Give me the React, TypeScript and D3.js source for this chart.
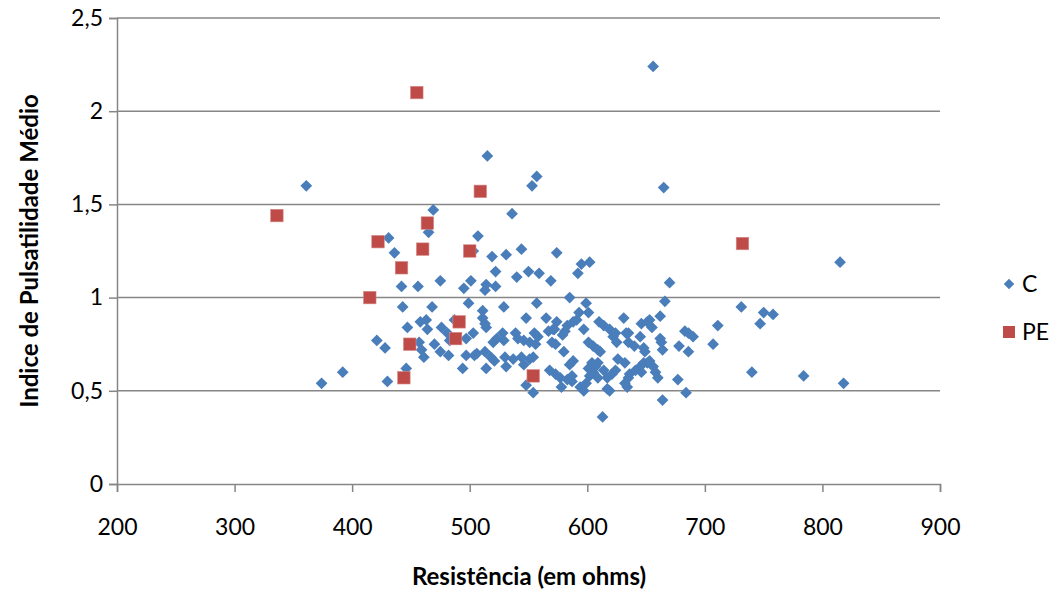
import React, { useRef, useEffect } from 'react';
import * as d3 from 'd3';

// Resistência (ohms) / Indice de Pulsatilidade Médio, grupo C
const cX = [
  515, 361, 557, 553, 469, 536, 465, 431, 507, 436, 503, 544, 519, 531, 522, 540, 550, 559, 475, 442,
  456, 495, 501, 513, 522, 514, 443, 468, 499, 529, 511, 548, 557, 565, 574, 569, 447, 458, 463, 464,
  476, 487, 511, 514, 513, 421, 428, 457, 459, 461, 470, 475, 482, 481, 483, 497, 503, 497, 506, 504,
  494, 514, 518, 521, 520, 528, 529, 523, 530, 531, 537, 539, 541, 546, 544, 546, 551, 554, 555, 558,
  556, 548, 554, 446, 430, 585, 599, 601, 593, 574, 572, 583, 588, 591, 581, 579, 597, 610, 614, 619,
  624, 631, 551, 567, 571, 570, 573, 580, 601, 605, 609, 611, 625, 622, 633, 513, 568, 573, 577, 578,
  583, 587, 585, 588, 594, 597, 599, 602, 605, 607, 601, 604, 609, 614, 617, 621, 624, 617, 619, 626,
  632, 634, 665, 595, 602, 592, 670, 666, 635, 635, 640, 645, 646, 651, 653, 655, 648, 649, 662, 662,
  663, 664, 678, 686, 683, 686, 690, 711, 707, 613, 632, 635, 636, 641, 645, 648, 651, 653, 646, 658,
  660, 656, 664, 677, 684, 815, 731, 750, 758, 747, 740, 784, 818, 374, 392, 656, 587, 609,
];
const cY = [
  1.76, 1.60, 1.65, 1.60, 1.47, 1.45, 1.35, 1.32, 1.33, 1.24, 1.25, 1.26, 1.22, 1.23, 1.14, 1.11, 1.14, 1.13, 1.09, 1.06,
  1.06, 1.05, 1.09, 1.04, 1.06, 1.07, 0.95, 0.95, 0.97, 0.95, 0.93, 0.89, 0.97, 0.89, 1.24, 1.09, 0.84, 0.87, 0.88, 0.83,
  0.84, 0.88, 0.89, 0.84, 0.86, 0.77, 0.73, 0.76, 0.72, 0.68, 0.75, 0.71, 0.69, 0.81, 0.77, 0.78, 0.81, 0.69, 0.70, 0.69,
  0.62, 0.62, 0.68, 0.66, 0.76, 0.81, 0.77, 0.78, 0.68, 0.63, 0.67, 0.81, 0.78, 0.77, 0.68, 0.64, 0.67, 0.68, 0.81, 0.79,
  0.75, 0.53, 0.49, 0.62, 0.55, 1.00, 0.97, 0.92, 0.92, 0.87, 0.83, 0.85, 0.87, 0.88, 0.82, 0.80, 0.83, 0.87, 0.85, 0.83,
  0.81, 0.89, 0.76, 0.82, 0.83, 0.76, 0.75, 0.71, 0.76, 0.74, 0.72, 0.71, 0.76, 0.79, 0.81, 0.71, 0.61, 0.59, 0.57, 0.52,
  0.56, 0.58, 0.64, 0.66, 0.52, 0.50, 0.54, 0.58, 0.60, 0.63, 0.62, 0.65, 0.65, 0.61, 0.57, 0.59, 0.61, 0.51, 0.50, 0.67,
  0.65, 0.52, 1.59, 1.18, 1.19, 1.13, 1.08, 0.98, 0.81, 0.76, 0.74, 0.79, 0.86, 0.87, 0.88, 0.84, 0.73, 0.71, 0.90, 0.78,
  0.76, 0.72, 0.74, 0.71, 0.82, 0.81, 0.79, 0.85, 0.75, 0.36, 0.54, 0.57, 0.59, 0.61, 0.63, 0.65, 0.65, 0.66, 0.60, 0.60,
  0.57, 0.63, 0.45, 0.56, 0.49, 1.19, 0.95, 0.92, 0.91, 0.86, 0.60, 0.58, 0.54, 0.54, 0.60, 2.24, 0.55, 0.57,
];

// grupo PE
const peX = [336, 455, 509, 422, 464, 460, 500, 442, 415, 491, 488, 449, 444, 554, 732];
const peY = [1.44, 2.10, 1.57, 1.30, 1.40, 1.26, 1.25, 1.16, 1.00, 0.87, 0.78, 0.75, 0.57, 0.58, 1.29];

const xTicks = [200, 300, 400, 500, 600, 700, 800, 900];
const yTicks = [0, 0.5, 1, 1.5, 2, 2.5];
const yTickLabels = ['0', '0,5', '1', '1,5', '2', '2,5'];

const App = () => {
  const svgRef = useRef<SVGSVGElement>(null);

  useEffect(() => {
    const width = 1055;
    const height = 593;
    const margin = { top: 18, right: 115, bottom: 109, left: 117 };
    const font = 'Lato, "Open Sans", sans-serif';
    const gray = '#868686';
    const tickFont = '23px';
    const titleFont = '24px';

    const svg = d3.select(svgRef.current)
      .attr('width', width)
      .attr('height', height)
      .style('background', 'white');

    svg.selectAll('*').remove();

    const xScale = d3.scaleLinear().domain([200, 900]).range([margin.left, width - margin.right]);
    const yScale = d3.scaleLinear().domain([0, 2.5]).range([height - margin.bottom, margin.top]);

    // horizontal gridlines
    svg.append('g')
      .selectAll('line')
      .data(yTicks.filter(d => d > 0))
      .join('line')
      .attr('x1', xScale(200))
      .attr('x2', xScale(900))
      .attr('y1', d => yScale(d))
      .attr('y2', d => yScale(d))
      .attr('stroke', gray)
      .attr('stroke-width', 1.5);

    const yAxis = d3.axisLeft(yScale)
      .tickValues(yTicks)
      .tickSize(8)
      .tickPadding(6)
      .tickFormat((d, i) => yTickLabels[i]);

    const gy = svg.append('g')
      .attr('transform', `translate(${margin.left},0)`)
      .call(yAxis);
    gy.select('.domain').attr('stroke', gray).attr('stroke-width', 1.5);
    gy.selectAll('.tick line').attr('stroke', gray).attr('stroke-width', 1.5);
    gy.selectAll('text')
      .attr('fill', 'black')
      .style('font-family', font)
      .style('font-size', tickFont);

    const xAxis = d3.axisBottom(xScale)
      .tickValues(xTicks)
      .tickSize(8)
      .tickPadding(27)
      .tickFormat(d3.format('d'));

    const gx = svg.append('g')
      .attr('transform', `translate(0,${height - margin.bottom})`)
      .call(xAxis);
    gx.select('.domain').attr('stroke', gray).attr('stroke-width', 1.5);
    gx.selectAll('.tick line').attr('stroke', gray).attr('stroke-width', 1.5);
    gx.selectAll('text')
      .attr('fill', 'black')
      .style('font-family', font)
      .style('font-size', tickFont);

    // axis titles
    svg.append('text')
      .attr('text-anchor', 'middle')
      .attr('x', 529)
      .attr('y', 585)
      .attr('font-weight', 'bold')
      .style('font-family', font)
      .style('font-size', titleFont)
      .text('Resistência (em ohms)');

    svg.append('text')
      .attr('text-anchor', 'middle')
      .attr('transform', 'translate(38,251) rotate(-90)')
      .attr('font-weight', 'bold')
      .style('font-family', font)
      .style('font-size', titleFont)
      .text('Indice de Pulsatilidade Médio');

    const diamond = d3.symbol().type(d3.symbolDiamond2).size(88);
    const cData = cX.map((x, i) => ({ x, y: cY[i] }));
    const peData = peX.map((x, i) => ({ x, y: peY[i] }));

    svg.append('g')
      .selectAll('path')
      .data(cData)
      .join('path')
      .attr('d', diamond)
      .attr('transform', d => `translate(${xScale(d.x)},${yScale(d.y)})`)
      .attr('fill', '#4a7ebb');

    svg.append('g')
      .selectAll('rect')
      .data(peData)
      .join('rect')
      .attr('x', d => xScale(d.x) - 6.25)
      .attr('y', d => yScale(d.y) - 6.25)
      .attr('width', 12.5)
      .attr('height', 12.5)
      .attr('fill', '#be4b48')
      .attr('stroke', '#d58a88')
      .attr('stroke-width', 0.6);

    // legend
    const legend = svg.append('g').attr('transform', 'translate(1009,0)');
    legend.append('path')
      .attr('d', d3.symbol().type(d3.symbolDiamond2).size(70))
      .attr('transform', 'translate(0,284)')
      .attr('fill', '#4a7ebb');
    legend.append('rect')
      .attr('x', -6)
      .attr('y', 326)
      .attr('width', 12)
      .attr('height', 12)
      .attr('fill', '#be4b48');
    legend.selectAll('text')
      .data(['C', 'PE'])
      .join('text')
      .attr('x', 13)
      .attr('y', (d, i) => 284 + i * 48)
      .attr('dy', '0.35em')
      .attr('fill', 'black')
      .style('font-family', font)
      .style('font-size', tickFont)
      .text(d => d);
  }, []);

  return (
    <div style={{ position: 'absolute', left: 0, top: 0, background: 'white' }}>
      <svg ref={svgRef}></svg>
    </div>
  );
};

export default App;
